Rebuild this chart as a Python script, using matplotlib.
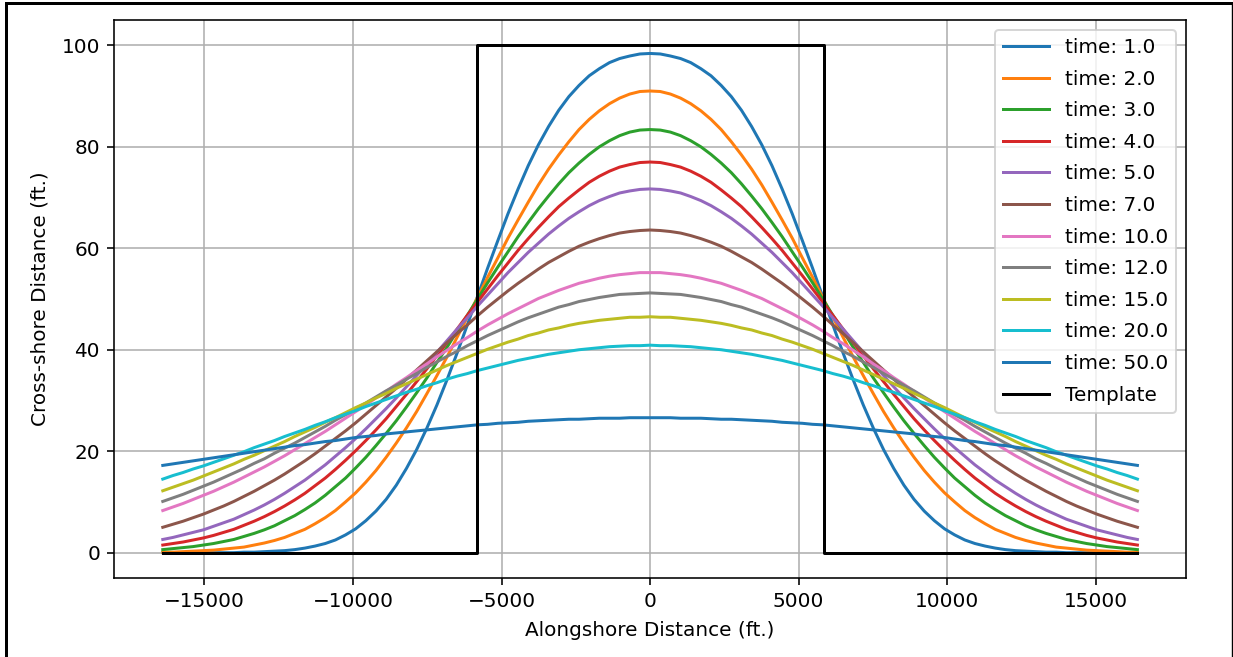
import numpy as np
import matplotlib
matplotlib.use('Agg')
import matplotlib.pyplot as plt
from matplotlib.lines import Line2D

# alongshore stations (ft), -16404 .. 16404, 97 of them
x = np.linspace(-16404, 16404, 97)

# shoreline profiles from the left end up to the centre (x = 0)
# the profiles are symmetric about x = 0
y_t1 = [0.0,0.0,0.0,0.0,0.0,0.0,0.0,0.0,0.1,0.1,0.2,0.3,0.4,0.6,0.9,1.3,1.8,2.5,3.5,4.7,6.3,8.2,10.5,13.3,16.6,
        20.3,24.5,29.1,34.1,39.4,44.9,50.5,56.1,61.5,66.8,71.7,76.3,80.4,84.0,87.2,89.9,92.1,94.0,95.4,96.6,97.4,97.9,98.3,98.4]
y_t2 = [0.1,0.1,0.2,0.3,0.4,0.5,0.7,0.9,1.1,1.5,1.9,2.4,3.0,3.8,4.6,5.7,6.9,8.3,10.0,11.8,13.9,16.2,18.8,21.6,24.6,
        27.8,31.3,34.9,38.6,42.5,46.4,50.3,54.3,58.1,62.0,65.6,69.1,72.5,75.6,78.4,81.0,83.4,85.4,87.1,88.5,89.6,90.4,90.9,91.0]
y_t3 = [0.6,0.8,1.0,1.2,1.5,1.8,2.2,2.6,3.2,3.8,4.5,5.3,6.3,7.3,8.5,9.8,11.3,13.0,14.7,16.7,18.8,21.1,23.5,26.0,28.7,
        31.5,34.4,37.5,40.5,43.7,46.8,50.0,53.2,56.3,59.3,62.3,65.1,67.8,70.3,72.7,74.9,76.8,78.5,80.0,81.2,82.2,82.9,83.3,83.4]
y_t4 = [1.5,1.8,2.1,2.5,2.9,3.4,4.0,4.6,5.4,6.2,7.1,8.1,9.2,10.4,11.7,13.2,14.7,16.4,18.2,20.1,22.1,24.2,26.4,28.8,31.2,
        33.7,36.2,38.8,41.4,44.1,46.8,49.4,52.0,54.6,57.1,59.6,61.9,64.1,66.2,68.2,69.9,71.5,73.0,74.2,75.2,76.0,76.5,76.9,77.0]
y_t5 = [2.6,3.0,3.5,4.0,4.5,5.2,5.9,6.6,7.5,8.4,9.4,10.5,11.7,13.0,14.3,15.8,17.3,19.0,20.7,22.5,24.4,26.4,28.4,30.5,32.7,
        34.9,37.2,39.5,41.8,44.1,46.3,48.6,50.8,53.0,55.2,57.2,59.2,61.0,62.8,64.4,65.9,67.2,68.4,69.4,70.2,70.9,71.3,71.6,71.7]
y_t7 = [5.0,5.6,6.2,6.9,7.6,8.4,9.2,10.1,11.1,12.1,13.2,14.3,15.5,16.8,18.1,19.5,21.0,22.5,24.0,25.6,27.3,29.0,30.7,32.4,34.2,
        36.0,37.8,39.6,41.4,43.2,44.9,46.7,48.4,50.0,51.6,53.1,54.5,55.9,57.2,58.3,59.4,60.4,61.2,61.9,62.5,63.0,63.3,63.5,63.6]
y_t10 = [8.3,9.0,9.7,10.5,11.3,12.1,13.0,13.9,14.9,15.9,16.9,18.0,19.1,20.3,21.5,22.7,23.9,25.2,26.5,27.8,29.1,30.5,31.8,33.2,34.5,
         35.9,37.2,38.6,39.9,41.2,42.4,43.7,44.9,46.0,47.1,48.1,49.1,50.1,50.9,51.7,52.4,53.1,53.6,54.1,54.5,54.8,55.0,55.2,55.2]
y_t12 = [10.1,10.8,11.5,12.3,13.1,13.9,14.8,15.7,16.6,17.6,18.5,19.6,20.6,21.6,22.7,23.8,24.9,26.1,27.2,28.4,29.5,30.7,31.9,33.0,34.2,
         35.3,36.5,37.6,38.7,39.7,40.8,41.8,42.8,43.7,44.6,45.5,46.3,47.0,47.7,48.4,48.9,49.5,49.9,50.3,50.6,50.9,51.0,51.1,51.2]
y_t15 = [12.2,12.9,13.6,14.3,15.1,15.9,16.7,17.5,18.4,19.2,20.1,21.0,21.9,22.9,23.8,24.7,25.7,26.6,27.6,28.6,29.5,30.5,31.4,32.4,33.3,
         34.2,35.1,36.0,36.9,37.7,38.5,39.3,40.1,40.8,41.5,42.1,42.8,43.3,43.9,44.3,44.8,45.2,45.5,45.8,46.0,46.2,46.4,46.4,46.5]
y_t20 = [14.5,15.2,15.8,16.5,17.1,17.8,18.5,19.2,19.9,20.7,21.4,22.1,22.9,23.6,24.3,25.1,25.8,26.6,27.3,28.0,28.8,29.5,30.2,30.9,31.6,
         32.2,32.9,33.5,34.2,34.8,35.3,35.9,36.4,36.9,37.4,37.9,38.3,38.7,39.1,39.4,39.7,40.0,40.2,40.4,40.6,40.7,40.8,40.8,40.9]
y_t50 = [17.2,17.5,17.8,18.1,18.4,18.7,19.0,19.3,19.6,19.9,20.2,20.5,20.8,21.1,21.3,21.6,21.9,22.1,22.4,22.7,22.9,23.1,23.4,23.6,23.8,
         24.0,24.2,24.4,24.6,24.8,25.0,25.2,25.3,25.5,25.6,25.7,25.9,26.0,26.1,26.2,26.3,26.3,26.4,26.5,26.5,26.5,26.6,26.6,26.6]

times = [1.0, 2.0, 3.0, 4.0, 5.0, 7.0, 10.0, 12.0, 15.0, 20.0, 50.0]
profiles = [y_t1, y_t2, y_t3, y_t4, y_t5, y_t7, y_t10, y_t12, y_t15, y_t20, y_t50]

# initial rectangular fill
template_x = [-16404, -5840, -5840, 5840, 5840, 16404]
template_y = [0, 0, 100, 100, 0, 0]

fig = plt.figure(figsize=(1233/144, 657/144), dpi=144)
ax = fig.add_axes([0.0925, 0.1202, 0.8695, 0.8494])
for t, half in zip(times, profiles):
    y = half + half[-2::-1]   # mirror about the centre
    ax.plot(x, y, label='time: ' + str(t))
ax.plot(template_x, template_y, color='black', label='Template')
ax.set_xlabel('Alongshore Distance (ft.)', labelpad=5)
ax.set_ylabel('Cross-shore Distance (ft.)', labelpad=6)
ax.grid(True)
ax.legend(loc='upper right', labelspacing=0.63, handlelength=2.3)

# frame of the screenshot
fig.add_artist(Line2D([6/1233, 6/1233], [0, 1 - 3/657], color='black', lw=1.5, transform=fig.transFigure))
fig.add_artist(Line2D([6/1233, 1232/1233], [1 - 3/657, 1 - 3/657], color='black', lw=1.5, transform=fig.transFigure))
fig.add_artist(Line2D([1232/1233, 1232/1233], [0, 1 - 3/657], color='black', lw=0.7, transform=fig.transFigure))

fig.savefig('out.png', dpi=144)
